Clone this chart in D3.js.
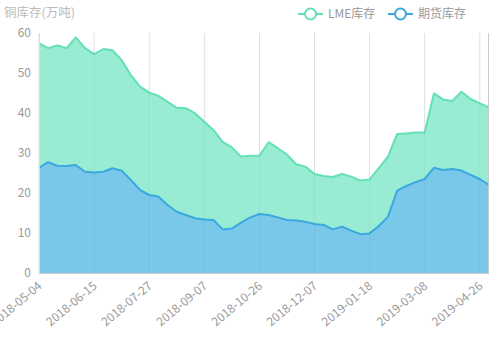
<!DOCTYPE html>
<html><head><meta charset="utf-8">
<script src="https://cdn.jsdelivr.net/npm/d3@7"></script>
<style>html,body{margin:0;padding:0;background:#fff;}svg{display:block;font-family:"Noto Sans CJK SC","Noto Sans",sans-serif;}</style>
</head><body><svg id="c" width="493" height="339"></svg>
<script>
const dates = ["2018-05-04","2018-05-11","2018-05-18","2018-05-25","2018-06-01","2018-06-08","2018-06-15","2018-06-22","2018-06-29","2018-07-06","2018-07-13","2018-07-20","2018-07-27","2018-08-03","2018-08-10","2018-08-17","2018-08-24","2018-08-31","2018-09-07","2018-09-14","2018-09-21","2018-09-28","2018-10-12","2018-10-19","2018-10-26","2018-11-02","2018-11-09","2018-11-16","2018-11-23","2018-11-30","2018-12-07","2018-12-14","2018-12-21","2018-12-28","2019-01-04","2019-01-11","2019-01-18","2019-01-25","2019-02-01","2019-02-15","2019-02-22","2019-03-01","2019-03-08","2019-03-15","2019-03-22","2019-03-29","2019-04-12","2019-04-19","2019-04-26","2019-05-10"];
// 期货库存 (futures) - bottom layer
const futures = [26.3,27.7,26.8,26.75,27.0,25.3,25.1,25.3,26.2,25.6,23.25,20.75,19.5,19.1,17.0,15.3,14.5,13.7,13.4,13.25,10.9,11.1,12.6,13.9,14.75,14.5,13.9,13.25,13.1,12.8,12.25,12.0,10.9,11.6,10.6,9.7,9.9,11.75,14.1,20.6,21.75,22.7,23.5,26.3,25.75,26.0,25.6,24.5,23.5,22.0];
// total (LME stacked on futures)
const totals = [57.4,56.2,56.9,56.2,58.9,56.2,54.7,56.0,55.7,53.2,49.5,46.6,45.1,44.3,42.8,41.3,41.2,39.9,37.8,35.7,32.8,31.4,29.1,29.3,29.3,32.7,31.2,29.6,27.2,26.6,24.75,24.25,24.0,24.75,24.1,23.1,23.4,26.2,29.1,34.75,34.9,35.1,35.1,44.9,43.4,43.0,45.3,43.5,42.4,41.4];
const lme = totals.map((t,i)=>+(t-futures[i]).toFixed(2));
const yTicks = [0,10,20,30,40,50,60];
const seriesNames = ["LME库存","期货库存"];

const svg = d3.select("#c");
const m = {l:39, r:4, t:33, b:66};
const W = 493, H = 339;
const x = d3.scalePoint().domain(dates).range([m.l, W-m.r]);
const y = d3.scaleLinear().domain([0,60]).range([H-m.b, m.t]);

const rows = dates.map((d,i)=>({date:d, futures:futures[i], lme:lme[i]}));
const stack = d3.stack().keys(["futures","lme"])(rows);

const tickDates = dates.filter((d,i)=>i%6===0);
svg.append("g").selectAll("line").data(tickDates).join("line")
  .attr("x1",d=>x(d)).attr("x2",d=>x(d)).attr("y1",m.t).attr("y2",H-m.b)
  .attr("stroke","#e8e8e8").attr("stroke-width",1);

const colors = {lme:{fill:"#98ecd3",stroke:"#62e0b6"}, futures:{fill:"#79c8e9",stroke:"#3ca8e0"}};
const area = d3.area().x((d,i)=>x(dates[i])).y0(d=>y(d[0])).y1(d=>y(d[1]));
const line = d3.line().x((d,i)=>x(dates[i])).y(d=>y(d[1]));
[stack[1], stack[0]].forEach(s=>{
  const c = colors[s.key];
  svg.append("path").datum(s).attr("d",area).attr("fill",c.fill);
});
[stack[1], stack[0]].forEach(s=>{
  const c = colors[s.key];
  svg.append("path").datum(s).attr("d",line).attr("fill","none").attr("stroke",c.stroke).attr("stroke-width",2).attr("stroke-linejoin","round");
});
svg.append("g").selectAll("line").data(tickDates).join("line")
  .attr("x1",d=>x(d)).attr("x2",d=>x(d)).attr("y1",m.t).attr("y2",H-m.b)
  .attr("stroke","#000").attr("stroke-opacity",0.04).attr("stroke-width",1);

svg.append("line").attr("x1",m.l).attr("x2",W-m.r).attr("y1",H-m.b+0.5).attr("y2",H-m.b+0.5).attr("stroke","#ccc");
svg.append("line").attr("x1",m.l+0.5).attr("x2",m.l+0.5).attr("y1",m.t).attr("y2",H-m.b).attr("stroke","#ddd");
svg.append("line").attr("x1",W-m.r-0.5).attr("x2",W-m.r-0.5).attr("y1",m.t).attr("y2",H-m.b).attr("stroke","#ccc");

svg.append("g").selectAll("text").data(yTicks).join("text")
  .attr("x",31).attr("y",d=>y(d)).attr("dy","0.35em").attr("text-anchor","end")
  .attr("fill","#999").attr("font-size",12).text(d=>d);

svg.append("g").selectAll("text").data(tickDates).join("text")
  .attr("transform",d=>`translate(${x(d)+1},${H-m.b+11}) rotate(-40)`)
  .attr("text-anchor","end").attr("dy","0.35em")
  .attr("fill","#999").attr("font-size",12).text(d=>d);

svg.append("text").attr("x",4).attr("y",17).attr("fill","#bbb").attr("font-size",12.5).text("铜库存(万吨)");

const leg = [{name:seriesNames[0],c:colors.lme.stroke,x:298},{name:seriesNames[1],c:colors.futures.stroke,x:388}];
leg.forEach(l=>{
  const g = svg.append("g").attr("transform",`translate(${l.x},14)`);
  g.append("line").attr("x1",0).attr("x2",25).attr("y1",0).attr("y2",0).attr("stroke",l.c).attr("stroke-width",2);
  g.append("circle").attr("cx",12.5).attr("cy",0).attr("r",5.5).attr("fill","#fff").attr("stroke",l.c).attr("stroke-width",2);
  g.append("text").attr("x",30).attr("y",0).attr("dy","0.35em").attr("fill","#999").attr("font-size",12).text(l.name);
});
</script></body></html>
